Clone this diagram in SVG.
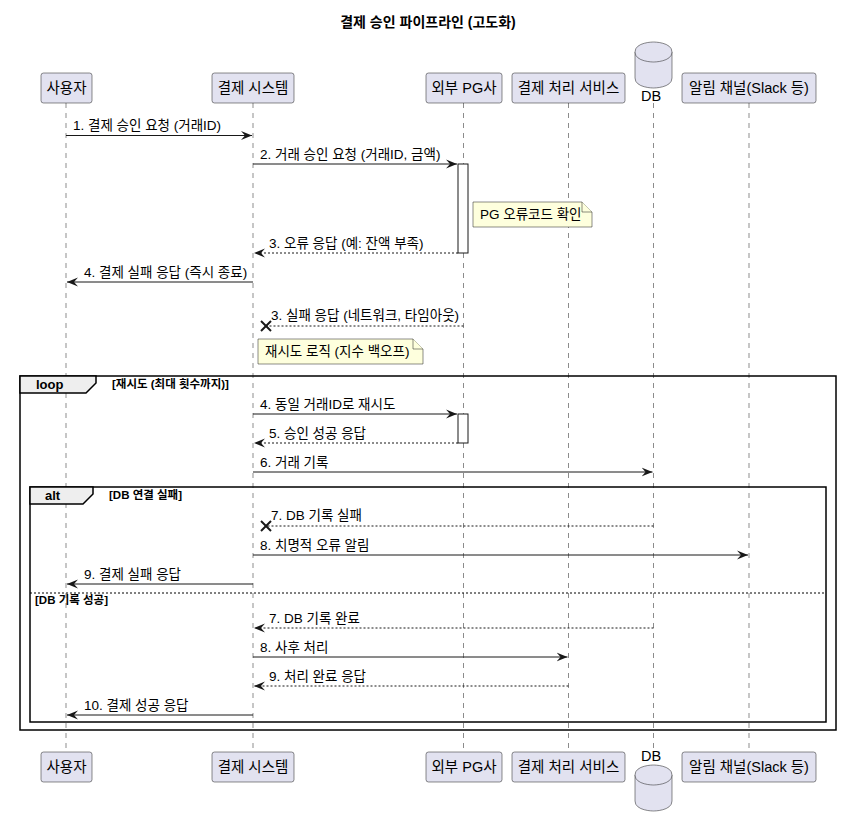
<svg xmlns="http://www.w3.org/2000/svg" width="841" height="825" viewBox="0 0 841 825">
<style>
text{font-family:"Liberation Sans","Noto Sans CJK KR",sans-serif;fill:#000}
.title{font-size:14px;font-weight:bold}
.pt{font-size:14.5px}
.msg{font-size:13.5px}
.grp{font-size:13px;font-weight:bold}
.grd{font-size:11.5px;font-weight:bold}
.pbox{fill:#E2E2F0;stroke:#181818;stroke-width:0.5}
.life{stroke:#181818;stroke-width:0.5;stroke-dasharray:5,5;fill:none}
.act{fill:#FFFFFF;stroke:#181818;stroke-width:1}
.note{fill:#FEFFDD;stroke:#181818;stroke-width:0.5}
.solid{stroke:#181818;stroke-width:1;fill:none}
.dash{stroke:#181818;stroke-width:1;fill:none;stroke-dasharray:2,2}
.frame{fill:none;stroke:#000;stroke-width:1.5}
.tab{fill:#EEEEEE;stroke:#000;stroke-width:1.5}
.sep{stroke:#000;stroke-width:1;stroke-dasharray:2,2}
.lost{stroke:#181818;stroke-width:2}
</style>
<defs>
<marker id="ah" viewBox="0 0 11 10" refX="11" refY="5" markerWidth="11" markerHeight="10" markerUnits="userSpaceOnUse" orient="auto">
<path d="M0,0.5 L11,5 L0,9.5 L4,5 Z" fill="#181818"/>
</marker>
</defs>
<rect width="841" height="825" fill="#FFFFFF"/>
<text class="title" x="428" y="27" text-anchor="middle">결제 승인 파이프라인 (고도화)</text>

<g id="lifelines">
<line class="life" x1="66" y1="103" x2="66" y2="752"/>
<line class="life" x1="253" y1="103" x2="253" y2="752"/>
<line class="life" x1="463.5" y1="103" x2="463.5" y2="752"/>
<line class="life" x1="568.5" y1="103" x2="568.5" y2="752"/>
<line class="life" x1="653.5" y1="103" x2="653.5" y2="752"/>
<line class="life" x1="749" y1="103" x2="749" y2="752"/>
</g>

<g id="loop-frame">
<rect class="frame" x="20" y="376" width="816" height="354"/>
<path class="tab" d="M20,376 L96,376 L96,383 L86,393 L20,393 Z"/>
<text class="grp" x="36" y="389">loop</text>
<text class="grd" x="112" y="388">[재시도 (최대 횟수까지)]</text>
</g>

<g id="alt-frame">
<rect class="frame" x="30" y="487" width="796" height="235"/>
<path class="tab" d="M30,487 L93,487 L93,494 L83,504 L30,504 Z"/>
<text class="grp" x="45" y="500">alt</text>
<text class="grd" x="109" y="499">[DB 연결 실패]</text>
<line class="sep" x1="30" y1="593" x2="826" y2="593"/>
<text class="grd" x="35" y="604">[DB 기록 성공]</text>
</g>

<g id="user">
<rect class="pbox" x="41" y="73" width="51" height="30" rx="2.5"/>
<text class="pt" x="66.5" y="93" text-anchor="middle">사용자</text>
<rect class="pbox" x="41" y="752" width="51" height="30" rx="2.5"/>
<text class="pt" x="66.5" y="772" text-anchor="middle">사용자</text>
</g>
<g id="paysys">
<rect class="pbox" x="212" y="73" width="82" height="30" rx="2.5"/>
<text class="pt" x="253" y="93" text-anchor="middle">결제 시스템</text>
<rect class="pbox" x="212" y="752" width="82" height="30" rx="2.5"/>
<text class="pt" x="253" y="772" text-anchor="middle">결제 시스템</text>
</g>
<g id="pg">
<rect class="pbox" x="426" y="73" width="76" height="30" rx="2.5"/>
<text class="pt" x="464" y="93" text-anchor="middle">외부 PG사</text>
<rect class="pbox" x="426" y="752" width="76" height="30" rx="2.5"/>
<text class="pt" x="464" y="772" text-anchor="middle">외부 PG사</text>
</g>
<g id="proc">
<rect class="pbox" x="512" y="73" width="113" height="30" rx="2.5"/>
<text class="pt" x="568.5" y="93" text-anchor="middle">결제 처리 서비스</text>
<rect class="pbox" x="512" y="752" width="113" height="30" rx="2.5"/>
<text class="pt" x="568.5" y="772" text-anchor="middle">결제 처리 서비스</text>
</g>
<g id="db">
<path class="pbox" d="M635,52 C635,42 653.5,42 653.5,42 C653.5,42 672,42 672,52 L672,78 C672,88 653.5,88 653.5,88 C653.5,88 635,88 635,78 Z"/>
<path class="pbox" d="M635,52 C635,62 653.5,62 653.5,62 C653.5,62 672,62 672,52" fill="none"/>
<text class="pt" x="651" y="101" text-anchor="middle">DB</text>
<text class="pt" x="651" y="761" text-anchor="middle">DB</text>
<path class="pbox" d="M635,775 C635,765 653.5,765 653.5,765 C653.5,765 672,765 672,775 L672,801 C672,811 653.5,811 653.5,811 C653.5,811 635,811 635,801 Z"/>
<path class="pbox" d="M635,775 C635,785 653.5,785 653.5,785 C653.5,785 672,785 672,775" fill="none"/>
</g>
<g id="notify">
<rect class="pbox" x="682" y="73" width="134" height="30" rx="2.5"/>
<text class="pt" x="749" y="93" text-anchor="middle">알림 채널(Slack 등)</text>
<rect class="pbox" x="682" y="752" width="134" height="30" rx="2.5"/>
<text class="pt" x="749" y="772" text-anchor="middle">알림 채널(Slack 등)</text>
</g>

<g id="activations">
<rect class="act" x="458" y="164" width="10" height="89"/>
<rect class="act" x="458" y="414" width="10" height="29"/>
</g>

<g id="note-pg">
<path class="note" d="M473,202 L582,202 L592,212 L592,227 L473,227 Z"/>
<path class="note" d="M582,202 L582,212 L592,212" fill="none"/>
<text class="msg" x="480" y="219">PG 오류코드 확인</text>
</g>
<g id="note-retry">
<path class="note" d="M258,339 L413,339 L423,349 L423,364 L258,364 Z"/>
<path class="note" d="M413,339 L413,349 L423,349" fill="none"/>
<text class="msg" x="265" y="356">재시도 로직 (지수 백오프)</text>
</g>

<g id="connectors">
<line class="solid" x1="66" y1="135.5" x2="252" y2="135.5" marker-end="url(#ah)"/>
<text class="msg" x="73" y="130">1. 결제 승인 요청 (거래ID)</text>

<line class="solid" x1="253" y1="164" x2="457" y2="164" marker-end="url(#ah)"/>
<text class="msg" x="260" y="159">2. 거래 승인 요청 (거래ID, 금액)</text>

<line class="dash" x1="458" y1="253" x2="254" y2="253" marker-end="url(#ah)"/>
<text class="msg" x="269" y="247.5">3. 오류 응답 (예: 잔액 부족)</text>

<line class="solid" x1="253" y1="282" x2="67" y2="282" marker-end="url(#ah)"/>
<text class="msg" x="84" y="276.5">4. 결제 실패 응답 (즉시 종료)</text>

<line class="dash" x1="463.5" y1="326" x2="266" y2="326"/>
<line class="lost" x1="261" y1="321" x2="271" y2="331"/>
<line class="lost" x1="261" y1="331" x2="271" y2="321"/>
<text class="msg" x="271" y="320">3. 실패 응답 (네트워크, 타임아웃)</text>

<line class="solid" x1="253" y1="414" x2="457" y2="414" marker-end="url(#ah)"/>
<text class="msg" x="260" y="408.5">4. 동일 거래ID로 재시도</text>

<line class="dash" x1="458" y1="443" x2="254" y2="443" marker-end="url(#ah)"/>
<text class="msg" x="269" y="437.5">5. 승인 성공 응답</text>

<line class="solid" x1="253" y1="472" x2="652.5" y2="472" marker-end="url(#ah)"/>
<text class="msg" x="260" y="466.5">6. 거래 기록</text>

<line class="dash" x1="653.5" y1="526" x2="266" y2="526"/>
<line class="lost" x1="261" y1="521" x2="271" y2="531"/>
<line class="lost" x1="261" y1="531" x2="271" y2="521"/>
<text class="msg" x="271" y="520">7. DB 기록 실패</text>

<line class="solid" x1="253" y1="555" x2="748" y2="555" marker-end="url(#ah)"/>
<text class="msg" x="260" y="549.5">8. 치명적 오류 알림</text>

<line class="solid" x1="253" y1="584" x2="67" y2="584" marker-end="url(#ah)"/>
<text class="msg" x="84" y="578.5">9. 결제 실패 응답</text>

<line class="dash" x1="653.5" y1="628" x2="254" y2="628" marker-end="url(#ah)"/>
<text class="msg" x="269" y="622.5">7. DB 기록 완료</text>

<line class="solid" x1="253" y1="657" x2="567.5" y2="657" marker-end="url(#ah)"/>
<text class="msg" x="260" y="651.5">8. 사후 처리</text>

<line class="dash" x1="568.5" y1="686" x2="254" y2="686" marker-end="url(#ah)"/>
<text class="msg" x="269" y="680.5">9. 처리 완료 응답</text>

<line class="solid" x1="253" y1="715" x2="67" y2="715" marker-end="url(#ah)"/>
<text class="msg" x="84" y="709.5">10. 결제 성공 응답</text>
</g>
</svg>
